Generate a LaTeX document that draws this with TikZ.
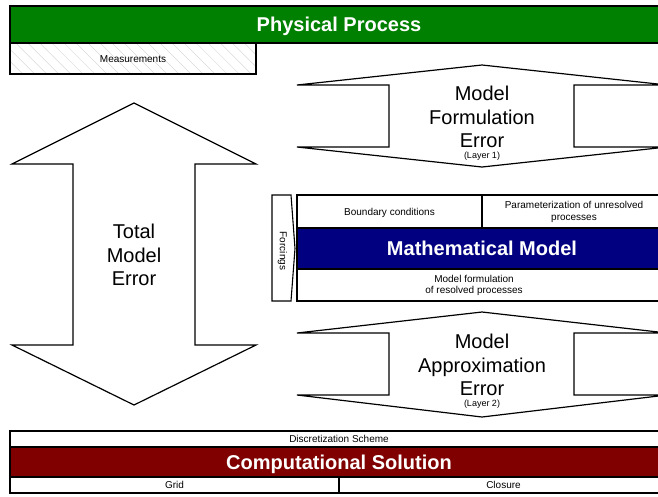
\documentclass[tikz,border=0pt]{standalone}
\usepackage{fontspec}
\setmainfont{Liberation Sans}
\usetikzlibrary{patterns.meta}
\definecolor{pgreen}{RGB}{0,128,0}
\definecolor{mblue}{RGB}{0,0,128}
\definecolor{cred}{RGB}{128,0,0}
\begin{document}
\begin{tikzpicture}[x=1pt,y=-1pt,line join=miter,
  box/.style={draw=black,line width=1.1pt},
  small/.style={font=\fontsize{10}{11.5}\selectfont,align=center,inner sep=0pt},
  smallone/.style={small,text height=7.2pt,text depth=0pt},
  titletext/.style={font=\fontsize{20}{24}\selectfont\bfseries,text=white,inner sep=0pt,text height=14.5pt,text depth=0pt},
  bigtext/.style={font=\fontsize{20}{23.5}\selectfont,align=center,inner sep=0pt},
  tinytext/.style={font=\fontsize{9}{10}\selectfont,inner sep=0pt},
  arrowshape/.style={draw=black,line width=1.2pt,fill=white}]
\useasboundingbox (0,0) rectangle (658,496);
\clip (0,0) rectangle (658,496);

% Physical process
\draw[box,fill=pgreen] (10,6) rectangle (668,43);
\node[titletext] (phys) at (339,24.5) {Physical Process};
\draw[box,pattern={Lines[angle=-45,distance=8.5pt,line width=0.5pt]},pattern color=black!15] (10,43) rectangle (256,74);
\draw[box] (10,43) rectangle (256,74);
\node[smallone] (meas) at (133,58.5) {Measurements};

% Total model error
\draw[arrowshape] (134,103) -- (256,164) -- (195,164) -- (195,345) -- (256,345) -- (134,405)
  -- (12,345) -- (73,345) -- (73,164) -- (12,164) -- cycle;
\node[bigtext] (tme) at (134,255) {Total\\Model\\Error};

% Model formulation error
\draw[arrowshape] (482,65) -- (667,85) -- (574,85) -- (574,147) -- (667,147) -- (482,167)
  -- (297,147) -- (389,147) -- (389,85) -- (297,85) -- cycle;
\node[bigtext] (mfe) at (482,117) {Model\\Formulation\\Error};
\node[tinytext] (l1) at (482,156) {(Layer 1)};

% Mathematical model block
\draw[box,fill=white] (272,195) -- (291,195) -- (295,248.5) -- (291,301) -- (272,301) -- cycle;
\node[small,rotate=-90] (forc) at (282.5,251) {Forcings};
\draw[box] (297,195) rectangle (482,228);
\node[smallone] (bc) at (389.5,211.5) {Boundary conditions};
\draw[box] (482,195) rectangle (668,228);
\node[small] (par) at (574,212) {Parameterization of unresolved\\processes};
\draw[box,fill=mblue] (297,228) rectangle (668,269);
\node[titletext] (math) at (482,248.5) {Mathematical Model};
\draw[box] (297,269) rectangle (668,301);
\node[small] (res) at (474,285.5) {Model formulation\\of resolved processes};

% Model approximation error
\draw[arrowshape] (482,312) -- (667,333) -- (574,333) -- (574,395) -- (667,395) -- (482,417)
  -- (297,395) -- (389,395) -- (389,333) -- (297,333) -- cycle;
\node[bigtext] (mae) at (482,365) {Model\\Approximation\\Error};
\node[tinytext] (l2) at (482,404) {(Layer 2)};

% Computational solution
\draw[box] (10,431) rectangle (668,447);
\node[smallone] (disc) at (339,439) {Discretization Scheme};
\draw[box,fill=cred] (10,447) rectangle (668,477);
\node[titletext] (comp) at (339,462) {Computational Solution};
\draw[box] (10,477) rectangle (339,493);
\node[smallone] (grid) at (174.5,485) {Grid};
\draw[box] (339,477) rectangle (668,493);
\node[smallone] (clos) at (503.5,485) {Closure};
\end{tikzpicture}
\end{document}
